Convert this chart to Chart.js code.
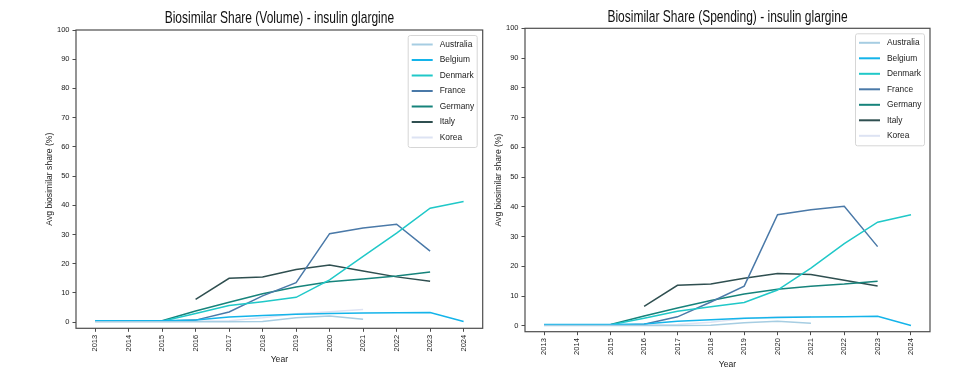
<!DOCTYPE html>
<html>
<head>
<meta charset="utf-8">
<script src="https://cdn.jsdelivr.net/npm/chart.js@4"></script>
<style>
    html, body { margin: 0; padding: 0; background: #fff; }
    #wrap { position: relative; width: 958px; height: 379px; }
    #volWrap { position: absolute; left: 0; top: 0; }
    #spendWrap { position: absolute; left: 490px; top: 0; }
</style>
</head>
<body>
<div id="wrap">
    <div id="volWrap"><canvas id="volumeChart" width="490" height="379"></canvas></div>
    <div id="spendWrap"><canvas id="spendingChart" width="468" height="379"></canvas></div>
</div>
<script>
// ==========================
// DATA
// ==========================
const years = [2013, 2014, 2015, 2016, 2017, 2018, 2019, 2020, 2021, 2022, 2023, 2024];
const yTicks = [0, 10, 20, 30, 40, 50, 60, 70, 80, 90, 100];
const countries = ["Australia", "Belgium", "Denmark", "France", "Germany", "Italy", "Korea"];
const countryColors = ["#a6cde2", "#14b4ea", "#20c8c8", "#4a79a8", "#16837b", "#2f4f50", "#dde3f3"];

// volume share (%)
const volAustralia = [0.1, 0.1, 0.1, 0.1, 0.1, 0.2, 1.5, 2.1, 1.0, null, null, null];
const volBelgium   = [0.5, 0.5, 0.5, 0.7, 1.8, 2.3, 2.7, 3.0, 3.1, 3.2, 3.3, 0.2];
const volDenmark   = [null, null, 0.3, 3.0, 5.7, 7.0, 8.5, 14.5, 22.5, 30.5, 39.0, 41.3];
const volFrance    = [0.3, 0.3, 0.3, 0.7, 3.5, 9.0, 13.5, 30.3, 32.2, 33.5, 24.3, null];
const volGermany   = [null, null, 0.5, 3.8, 6.8, 9.7, 12.0, 13.8, 14.8, 15.8, 17.2, null];
const volItaly     = [null, null, null, 7.8, 15.0, 15.5, 18.0, 19.6, 17.5, 15.5, 14.0, null];
const volKorea     = [0.2, 0.2, 0.2, 0.3, 0.5, 1.5, 2.9, 3.6, 4.3, null, null, null];

// spending share (%)
const spAustralia = [0.1, 0.1, 0.1, 0.1, 0.1, 0.2, 1.0, 1.5, 0.8, null, null, null];
const spBelgium   = [0.4, 0.4, 0.4, 0.6, 1.5, 2.0, 2.5, 2.8, 2.9, 3.0, 3.2, 0.1];
const spDenmark   = [null, null, 0.3, 2.5, 4.9, 6.4, 7.8, 12.0, 19.4, 27.6, 34.8, 37.3];
const spFrance    = [0.2, 0.2, 0.2, 0.5, 3.0, 8.0, 13.3, 37.3, 39.0, 40.2, 26.6, null];
const spGermany   = [null, null, 0.4, 3.3, 6.0, 8.5, 10.7, 12.3, 13.3, 14.0, 15.0, null];
const spItaly     = [null, null, null, 6.5, 13.6, 14.0, 16.0, 17.6, 17.2, 15.3, 13.4, null];
const spKorea     = [0.2, 0.2, 0.2, 0.3, 0.4, 1.2, 2.4, 3.0, 3.0, null, null, null];

const volumeSeries = [volAustralia, volBelgium, volDenmark, volFrance, volGermany, volItaly, volKorea];
const spendingSeries = [spAustralia, spBelgium, spDenmark, spFrance, spGermany, spItaly, spKorea];

const FONT = "'Liberation Sans', Arial, sans-serif";

// ==========================
// PLUGINS
// ==========================
// title, matplotlib-ish (slightly tall glyphs)
const tallTitle = {
    id: "tallTitle",
    afterDraw(chart, args, opts) {
        const ctx = chart.ctx;
        const area = chart.chartArea;
        ctx.save();
        ctx.font = "12px " + FONT;
        ctx.fillStyle = "#111";
        ctx.textAlign = "center";
        ctx.textBaseline = "alphabetic";
        ctx.translate((area.left + area.right) / 2, opts.baseline);
        ctx.scale(1, 1.35);
        ctx.fillText(opts.text, 0, 0);
        ctx.restore();
    }
};

// full box round the plot area
const frameBox = {
    id: "frameBox",
    afterDraw(chart) {
        const ctx = chart.ctx;
        const a = chart.chartArea;
        ctx.save();
        ctx.strokeStyle = "#4d4d4d";
        ctx.lineWidth = 1.2;
        ctx.strokeRect(a.left, a.top, a.right - a.left, a.bottom - a.top);
        ctx.restore();
    }
};

// legend box in the upper right corner
const boxLegend = {
    id: "boxLegend",
    afterDraw(chart) {
        const ctx = chart.ctx;
        const a = chart.chartArea;
        const w = 69, h = 112, rowH = 15.5;
        const x0 = a.right - 6 - w;
        const y0 = a.top + 5;
        ctx.save();
        ctx.fillStyle = "rgba(255,255,255,0.85)";
        ctx.strokeStyle = "#d6d6d6";
        ctx.lineWidth = 1;
        ctx.beginPath();
        ctx.roundRect(x0 + 0.5, y0 + 0.5, w, h, 2);
        ctx.fill();
        ctx.stroke();
        ctx.font = "8.4px " + FONT;
        ctx.textBaseline = "middle";
        ctx.textAlign = "left";
        chart.data.datasets.forEach((ds, i) => {
            const y = y0 + 9.5 + i * rowH;
            ctx.strokeStyle = ds.borderColor;
            ctx.lineWidth = 2;
            ctx.beginPath();
            ctx.moveTo(x0 + 4, y);
            ctx.lineTo(x0 + 25, y);
            ctx.stroke();
            ctx.fillStyle = "#222";
            ctx.fillText(ds.label, x0 + 32, y);
        });
        ctx.restore();
    }
};

// ==========================
// BUILD CHART
// ==========================
function buildChart(canvasId, titleText, series, lay) {
    const datasets = series.map((vals, i) => ({
        label: countries[i],
        data: years.map((yr, j) => ({ x: yr, y: vals[j] })).filter(p => p.y !== null),
        borderColor: countryColors[i],
        backgroundColor: countryColors[i],
        borderWidth: 1.5,
        pointRadius: 0,
        tension: 0,
        fill: false
    }));

    return new Chart(document.getElementById(canvasId), {
        type: "line",
        data: { datasets: datasets },
        plugins: [frameBox, boxLegend, tallTitle],
        options: {
            responsive: false,
            animation: false,
            layout: { padding: { left: lay.left, right: lay.right, top: lay.top, bottom: 0 } },
            plugins: {
                legend: { display: false },
                tooltip: { enabled: false },
                title: { display: false },
                tallTitle: { text: titleText, baseline: lay.titleBase }
            },
            scales: {
                x: {
                    type: "linear",
                    min: 2012.43,
                    max: 2024.57,
                    afterBuildTicks: s => { s.ticks = years.map(v => ({ value: v })); },
                    afterFit: s => { s.height = lay.xHeight; },
                    border: { display: false },
                    grid: { display: true, drawOnChartArea: false, drawTicks: true, tickLength: 3.5, tickColor: "#4d4d4d" },
                    ticks: {
                        autoSkip: false,
                        minRotation: 90,
                        maxRotation: 90,
                        padding: 3,
                        color: "#222",
                        font: { family: FONT, size: 7.5 },
                        callback: v => String(v)
                    },
                    title: {
                        display: true,
                        text: "Year",
                        color: "#222",
                        font: { family: FONT, size: 8.6 },
                        padding: { top: 0, bottom: lay.yearPad }
                    }
                },
                y: {
                    min: lay.ymin,
                    max: 100,
                    afterBuildTicks: s => { s.ticks = yTicks.map(v => ({ value: v })); },
                    afterFit: s => { s.width = lay.yWidth; },
                    border: { display: false },
                    grid: { display: true, drawOnChartArea: false, drawTicks: true, tickLength: 3.5, tickColor: "#4d4d4d" },
                    ticks: {
                        padding: 3,
                        color: "#222",
                        font: { family: FONT, size: 7.5 },
                        callback: v => String(v)
                    },
                    title: {
                        display: true,
                        text: "Avg biosimilar share (%)",
                        color: "#222",
                        font: { family: FONT, size: 8.6 },
                        padding: { top: lay.ytPad, bottom: 0 }
                    }
                }
            }
        }
    });
}

buildChart("volumeChart", "Biosimilar Share (Volume) - insulin glargine", volumeSeries, {
    left: 40, right: 7.3, top: 30, xHeight: 50.7, yWidth: 36, ymin: -2.1,
    titleBase: 23.3, yearPad: 13.8, ytPad: 4
});

buildChart("spendingChart", "Biosimilar Share (Spending) - insulin glargine", spendingSeries, {
    left: 0, right: 28, top: 28.3, xHeight: 47.3, yWidth: 35, ymin: -2.0,
    titleBase: 21.7, yearPad: 8.8, ytPad: 3
});
</script>
</body>
</html>
